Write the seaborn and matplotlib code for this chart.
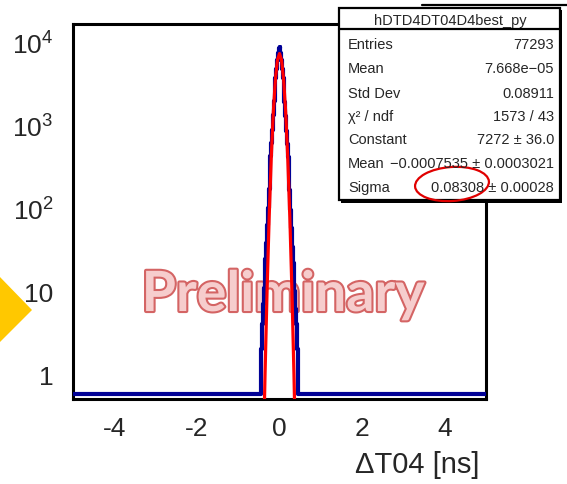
import numpy as np
import pandas as pd
import matplotlib
matplotlib.use("Agg")
import matplotlib.pyplot as plt
import matplotlib.ticker as mticker
import matplotlib.patheffects as pe
from matplotlib.patches import Rectangle, Ellipse, Polygon
import seaborn as sns

# histogram: 500 bins of 0.02 ns between -5 and 5, only the central 46 are filled
x_range = (-5.0, 5.0)
n_bins = 500
first_filled_bin = 227
peak_counts = [
    1, 2, 4, 7, 11, 16, 24, 38, 62, 100, 170, 280, 420, 600, 860, 1320,
    1950, 2750, 3700, 4800, 6100, 7400, 8500,
    8600, 7300, 6000, 4750, 3650, 2700, 1900, 1300, 840, 590, 410, 270,
    165, 95, 58, 34, 22, 15, 10, 6, 4, 2, 1,
]

# gaussian fit curve as drawn
fit_x = [-0.40, -0.35, -0.30, -0.25, -0.20, -0.15, -0.10, -0.05, 0.0,
         0.05, 0.10, 0.15, 0.20, 0.25, 0.30, 0.35, 0.40]
fit_y = [0.066, 1.0, 10.6, 78, 399, 1420, 3520, 6066, 7272,
         6066, 3520, 1420, 399, 78, 10.6, 1.0, 0.066]

y_ticks = [1, 10, 100, 1000, 10000]
y_tick_labels = ["1", "10", r"$\mathregular{10^{2}}$", r"$\mathregular{10^{3}}$",
                 r"$\mathregular{10^{4}}$"]

stats_title = "hDTD4DT04D4best_py"
stats_names = ["Entries", "Mean", "Std Dev", "χ² / ndf", "Constant", "Mean", "Sigma"]
stats_values = ["77293", "7.668e\u221205", "0.08911", "1573 / 43", "7272 ± 36.0",
                "\u22120.0007535 ± 0.0003021", "0.08308 ± 0.00028"]

W, H = 567, 485
Y_MIN, Y_MAX = 0.5, 16500
FLOOR = 0.57  # empty bins drawn on the frame bottom, ROOT-style

sns.set_style("white")
plt.rcParams["font.family"] = ["Liberation Sans", "DejaVu Sans"]
plt.rcParams["mathtext.fontset"] = "custom"
plt.rcParams["mathtext.rm"] = "Liberation Sans"
plt.rcParams["axes.unicode_minus"] = False

edges = np.linspace(x_range[0], x_range[1], n_bins + 1)
centers = 0.5 * (edges[:-1] + edges[1:])
counts = np.zeros(n_bins)
counts[first_filled_bin:first_filled_bin + len(peak_counts)] = peak_counts
hist_df = pd.DataFrame({"dt": centers, "n": np.where(counts > 0, counts, FLOOR)})
fit_df = pd.DataFrame({"dt": fit_x, "n": fit_y})

fig = plt.figure(figsize=(W / 100, H / 100), dpi=100)
ax = fig.add_axes([73 / W, (H - 400) / H, (486 - 73) / W, (400 - 25) / H])

# overlay in pixel coordinates for the stats box and decorations
ov = fig.add_axes([0, 0, 1, 1], zorder=5)
ov.set_xlim(0, W)
ov.set_ylim(H, 0)
ov.axis("off")

sns.histplot(data=hist_df, x="dt", weights="n", bins=n_bins, binrange=x_range,
             element="step", fill=False, color="#000096", linewidth=3.0, ax=ax,
             zorder=3)
sns.lineplot(data=fit_df, x="dt", y="n", color="#ff0000", linewidth=2.3, ax=ax,
             zorder=4)

ax.set_yscale("log")
ax.set_xlim(*x_range)
ax.set_ylim(Y_MIN, Y_MAX)
ax.set_ylabel("")
ax.yaxis.set_major_locator(mticker.FixedLocator(y_ticks))
ax.yaxis.set_major_formatter(mticker.FixedFormatter(y_tick_labels))
ax.yaxis.set_minor_locator(mticker.LogLocator(base=10, subs=np.arange(2, 10)))
ax.yaxis.set_minor_formatter(mticker.NullFormatter())
ax.xaxis.set_major_locator(mticker.MultipleLocator(2))
ax.xaxis.set_minor_locator(mticker.MultipleLocator(0.5))

ax.tick_params(axis="y", which="major", direction="in", length=8, width=2,
               labelsize=19, pad=14)
ax.tick_params(axis="y", which="minor", direction="in", length=4.5, width=2)
ax.tick_params(axis="x", which="major", direction="in", length=7, width=2,
               labelsize=19, pad=12)
ax.tick_params(axis="x", which="minor", direction="in", length=3.5, width=2)
ax.tick_params(top=False, right=False)
for s in ax.spines.values():
    s.set_linewidth(2.2)
    s.set_color("black")

ax.set_xlabel("ΔT04 [ns]", loc="right", fontsize=21)
ax.xaxis.set_label_coords(0.985, -0.135)

# watermark, behind the histogram lines
ax.text(283, 312, "Preliminary", transform=ov.transData, ha="center", va="baseline",
        fontsize=40, fontweight="bold", family="Lato", color="#f6cdcd", zorder=1,
        path_effects=[pe.withStroke(linewidth=3, foreground="#d46464")])

# stats box
ov.add_patch(Rectangle((341, 11), 221, 193, facecolor="black", edgecolor="none"))
ov.add_patch(Rectangle((339, 9), 221, 192, facecolor="white", edgecolor="black", lw=1.6))
ov.plot([339, 560], [30, 30], color="black", lw=1.6)
ov.plot([422, W], [6, 6], color="black", lw=1.6)
ov.text(450, 21, stats_title, ha="center", va="center", fontsize=10.5)
row_y = [45, 69, 94, 117, 140, 164, 188]
for name, val, yy in zip(stats_names, stats_values, row_y):
    ov.text(348, yy, name, ha="left", va="center", fontsize=10.5)
    ov.text(554, yy, val, ha="right", va="center", fontsize=10.5)
ov.add_patch(Ellipse((452, 185), 74, 34, angle=-4, facecolor="none",
                     edgecolor="#e00000", lw=1.6))

# yellow arrow head at the left edge
ov.add_patch(Polygon([(-1, 277), (32, 311), (-1, 344)], closed=True,
                     facecolor="#ffc800", edgecolor="none"))

fig.savefig("out.png", dpi=100)
